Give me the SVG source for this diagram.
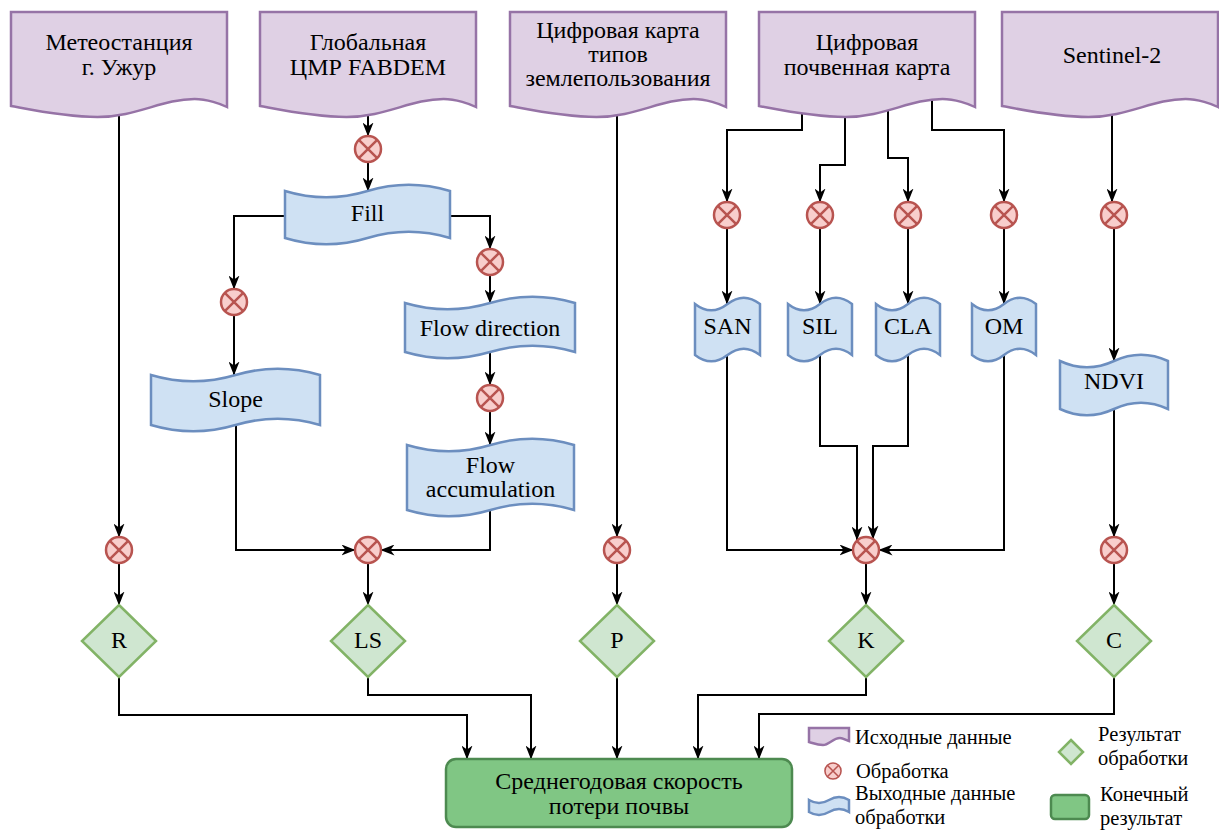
<svg xmlns="http://www.w3.org/2000/svg" xmlns:xlink="http://www.w3.org/1999/xlink" width="1219" height="830" viewBox="0 0 1219 830">
<style>
.doc{fill:#dfd0e4;stroke:#9673a6;stroke-width:2.5}
.tape{fill:#cfe1f3;stroke:#6c8ebf;stroke-width:2.5}
.proc{fill:#f8cecc;stroke:#b85450;stroke-width:2.5}
.px{stroke:#b85450;stroke-width:2.5;fill:none}
.res{fill:#cfe6d0;stroke:#82b366;stroke-width:2.5}
.fin{fill:#80c684;stroke:#4d8a50;stroke-width:2.5}
.edge{fill:none;stroke:#000;stroke-width:2;marker-end:url(#arr)}
text{font-family:"Liberation Serif","Times New Roman",serif;font-size:24px;fill:#000;text-anchor:middle}
.leg{font-size:20.5px;text-anchor:start}
</style>
<defs>
<marker id="arr" markerUnits="userSpaceOnUse" markerWidth="14" markerHeight="11" refX="13.5" refY="5.5" orient="auto" viewBox="0 0 14 11">
<path d="M0,0 L14,5.5 L0,11 L4,5.5 Z" fill="#000"/>
</marker>
<path id="docP" d="M0,0 H216 V95 C210,92 196,87 183.6,87 C151.2,87 125.3,105 86.4,105 C54,105 21.6,98 0,94 Z"/>
<g id="procP"><circle r="13"/><path class="px" d="M-9.2,-9.2 L9.2,9.2 M9.2,-9.2 L-9.2,9.2"/></g>
</defs>
<rect width="1219" height="830" fill="#fff"/>
<g id="connectors">
<path class="edge" d="M119,90 V537"/>
<path class="edge" d="M119,563 V605"/>
<path class="edge" d="M119,677 V715 H467 V759"/>
<path class="edge" d="M368,90 V136"/>
<path class="edge" d="M368,162 V191"/>
<path class="edge" d="M290,216 H234 V289"/>
<path class="edge" d="M445,216 H490 V249"/>
<path class="edge" d="M234,315 V375"/>
<path class="edge" d="M490,275 V303"/>
<path class="edge" d="M490,345 V385"/>
<path class="edge" d="M490,411 V445"/>
<path class="edge" d="M236,418 V550 H355"/>
<path class="edge" d="M490,500 V550 H381"/>
<path class="edge" d="M368,563 V605"/>
<path class="edge" d="M368,677 V695 H531 V759"/>
<path class="edge" d="M617,90 V537"/>
<path class="edge" d="M617,563 V605"/>
<path class="edge" d="M617,677 V759"/>
<path class="edge" d="M802,90 V130 H727 V202"/>
<path class="edge" d="M845,90 V165 H820 V202"/>
<path class="edge" d="M888,90 V158 H908 V202"/>
<path class="edge" d="M932,90 V130 H1004 V202"/>
<path class="edge" d="M727,228 V304"/>
<path class="edge" d="M820,228 V304"/>
<path class="edge" d="M908,228 V304"/>
<path class="edge" d="M1004,228 V304"/>
<path class="edge" d="M1112,90 V202"/>
<path class="edge" d="M1114,228 V361"/>
<path class="edge" d="M727,345 V550 H853"/>
<path class="edge" d="M820,345 V446 H857 V540"/>
<path class="edge" d="M908,345 V446 H873 V539"/>
<path class="edge" d="M1004,345 V550 H879"/>
<path class="edge" d="M866,563 V605"/>
<path class="edge" d="M866,677 V695 H698 V759"/>
<path class="edge" d="M1114,400 V537"/>
<path class="edge" d="M1114,563 V605"/>
<path class="edge" d="M1114,677 V714 H759 V759"/>
</g>
<g id="src-meteo"><use href="#docP" class="doc" x="11" y="12"/><text x="119" y="50">Метеостанция</text><text x="119" y="74.5">г. Ужур</text></g>
<g id="src-dem"><use href="#docP" class="doc" x="260" y="12"/><text x="368" y="50">Глобальная</text><text x="368" y="74.5">ЦМР FABDEM</text></g>
<g id="src-landuse"><use href="#docP" class="doc" x="510" y="12"/><text x="618" y="38">Цифровая карта</text><text x="618" y="62">типов</text><text x="618" y="86">землепользования</text></g>
<g id="src-soil"><use href="#docP" class="doc" x="759" y="12"/><text x="867" y="50">Цифровая</text><text x="867" y="74.5">почвенная карта</text></g>
<g id="src-sentinel"><use href="#docP" class="doc" x="1002" y="12"/><text x="1112" y="63">Sentinel-2</text></g>
<g id="proc-dem" class="proc" transform="translate(368,149)"><use href="#procP"/></g>
<g id="proc-slope" class="proc" transform="translate(234,302)"><use href="#procP"/></g>
<g id="proc-flowdir" class="proc" transform="translate(490,262)"><use href="#procP"/></g>
<g id="proc-flowacc" class="proc" transform="translate(490,398)"><use href="#procP"/></g>
<g id="proc-san" class="proc" transform="translate(727,215)"><use href="#procP"/></g>
<g id="proc-sil" class="proc" transform="translate(820,215)"><use href="#procP"/></g>
<g id="proc-cla" class="proc" transform="translate(908,215)"><use href="#procP"/></g>
<g id="proc-om" class="proc" transform="translate(1004,215)"><use href="#procP"/></g>
<g id="proc-ndvi" class="proc" transform="translate(1114,215)"><use href="#procP"/></g>
<g id="proc-r" class="proc" transform="translate(119,550)"><use href="#procP"/></g>
<g id="proc-ls" class="proc" transform="translate(368,550)"><use href="#procP"/></g>
<g id="proc-p" class="proc" transform="translate(617,550)"><use href="#procP"/></g>
<g id="proc-k" class="proc" transform="translate(866,550)"><use href="#procP"/></g>
<g id="proc-c" class="proc" transform="translate(1114,550)"><use href="#procP"/></g>
<g id="out-fill"><path class="tape" d="M285,191 Q326.25,203.6 367.5,191 Q408.75,178.4 450,191 L450,238 Q408.75,225.4 367.5,238 Q326.25,250.6 285,238 Z"/><text x="367.5" y="221">Fill</text></g>
<g id="out-flowdir"><path class="tape" d="M405,303 Q447.5,315.6 490,303 Q532.5,290.4 575,303 L575,352 Q532.5,339.4 490,352 Q447.5,364.6 405,352 Z"/><text x="490" y="336">Flow direction</text></g>
<g id="out-flowacc"><path class="tape" d="M407,445 Q448.75,457.6 490.5,445 Q532.25,432.4 574,445 L574,510 Q532.25,497.4 490.5,510 Q448.75,522.6 407,510 Z"/><text x="490.5" y="473">Flow</text><text x="490.5" y="497">accumulation</text></g>
<g id="out-slope"><path class="tape" d="M151,375 Q193.25,387.6 235.5,375 Q277.75,362.4 320,375 L320,425 Q277.75,412.4 235.5,425 Q193.25,437.6 151,425 Z"/><text x="235.5" y="407">Slope</text></g>
<g id="out-san"><path class="tape" d="M695,304 Q711.25,316.6 727.5,304 Q743.75,291.4 760,304 L760,355 Q743.75,342.4 727.5,355 Q711.25,367.6 695,355 Z"/><text x="727.5" y="334">SAN</text></g>
<g id="out-sil"><path class="tape" d="M788,304 Q804,316.6 820,304 Q836,291.4 852,304 L852,355 Q836,342.4 820,355 Q804,367.6 788,355 Z"/><text x="820" y="334">SIL</text></g>
<g id="out-cla"><path class="tape" d="M876,304 Q892,316.6 908,304 Q924,291.4 940,304 L940,355 Q924,342.4 908,355 Q892,367.6 876,355 Z"/><text x="908" y="334">CLA</text></g>
<g id="out-om"><path class="tape" d="M972,304 Q988,316.6 1004,304 Q1020,291.4 1036,304 L1036,355 Q1020,342.4 1004,355 Q988,367.6 972,355 Z"/><text x="1004" y="334">OM</text></g>
<g id="out-ndvi"><path class="tape" d="M1060,361 Q1087,373.6 1114,361 Q1141,348.4 1168,361 L1168,409 Q1141,396.4 1114,409 Q1087,421.6 1060,409 Z"/><text x="1114" y="389">NDVI</text></g>
<g id="res-r"><polygon class="res" points="119,605 156,641 119,677 82,641"/><text x="119" y="648">R</text></g>
<g id="res-ls"><polygon class="res" points="368,605 405,641 368,677 331,641"/><text x="368" y="648">LS</text></g>
<g id="res-p"><polygon class="res" points="617,605 654,641 617,677 580,641"/><text x="617" y="648">P</text></g>
<g id="res-k"><polygon class="res" points="866,605 903,641 866,677 829,641"/><text x="866" y="648">K</text></g>
<g id="res-c"><polygon class="res" points="1114,605 1151,641 1114,677 1077,641"/><text x="1114" y="648">C</text></g>
<g id="final"><rect class="fin" x="446" y="759" width="346" height="68" rx="10"/><text x="619" y="789">Среднегодовая скорость</text><text x="619" y="814">потери почвы</text></g>
<g id="legend">
<path class="doc" d="M809,728 H849 V741 C846,740 843,738 840,738 C833,738 829,745 823,745 C817,745 813,743 809,742 Z"/>
<text class="leg" x="855" y="744">Исходные данные</text>
<g class="proc" transform="translate(833,771) scale(0.62)"><use href="#procP"/></g>
<text class="leg" x="856" y="778">Обработка</text>
<path class="tape" d="M809,800 Q819,806 829,800 Q839,794 849,800 L849,812 Q839,806 829,812 Q819,818 809,812 Z"/>
<text class="leg" x="855" y="800">Выходные данные</text>
<text class="leg" x="855" y="824">обработки</text>
<polygon class="res" points="1071,740 1083,752 1071,764 1059,752"/>
<text class="leg" x="1098" y="741">Результат</text>
<text class="leg" x="1098" y="765">обработки</text>
<rect class="fin" x="1051" y="795" width="38" height="24" rx="4"/>
<text class="leg" x="1100" y="801">Конечный</text>
<text class="leg" x="1100" y="825">результат</text>
</g>
</svg>
